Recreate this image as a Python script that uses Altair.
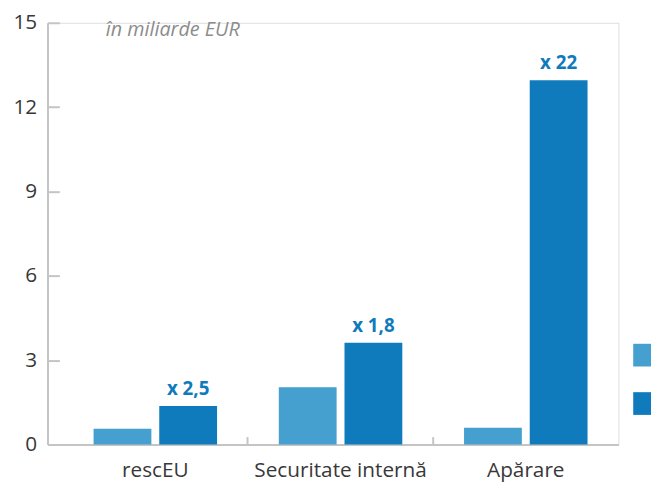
import altair as alt
import pandas as pd

categories = ["rescEU", "Securitate internă", "Apărare"]
series = ["2021-2027", "2028-2034"]
values_old = [0.56, 2.04, 0.60]
values_new = [1.37, 3.62, 12.96]
multipliers = ["x 2,5", "x 1,8", "x 22"]
y_ticks = [0, 3, 6, 9, 12, 15]
subtitle = "în miliarde EUR"

rows = []
for i, c in enumerate(categories):
    rows.append({"cat": c, "series": series[0], "value": values_old[i], "label": ""})
    rows.append({"cat": c, "series": series[1], "value": values_new[i], "label": multipliers[i]})
df = pd.DataFrame(rows)

FONT = "Open Sans"
LIGHT = "#45a0cf"
DARK = "#0f7abc"
AXIS_GREY = "#c4c4c4"
TEXT = "#383838"

x_enc = alt.X(
    "cat:N", sort=categories, title=None,
    scale=alt.Scale(paddingInner=0, paddingOuter=0.041, align=1),
    axis=alt.Axis(
        labelAngle=0, labelFontSize=21, labelColor=TEXT, labelFont=FONT,
        labelPadding=23, domainColor=AXIS_GREY, domainWidth=2,
        tickColor=AXIS_GREY, tickWidth=2, tickSize={"expr": "-8"},
        bandPosition=0,
        tickOpacity=alt.condition("datum.value === 'rescEU'", alt.value(0), alt.value(1)),
    ),
)
y_enc = alt.Y(
    "value:Q", title=None,
    scale=alt.Scale(domain=[0, 15], nice=False),
    axis=alt.Axis(
        values=y_ticks, labelFontSize=21, labelColor=TEXT, labelFont=FONT,
        labelPadding=23, domainColor=AXIS_GREY, domainWidth=2,
        tickColor=AXIS_GREY, tickWidth=2, tickSize={"expr": "-12"}, grid=False,
    ),
)
xoff = alt.XOffset("series:N", sort=series,
                   scale=alt.Scale(paddingInner=0.12, paddingOuter=0.47))

bars = alt.Chart(df).mark_bar().encode(
    x=x_enc, xOffset=xoff, y=y_enc,
    color=alt.Color(
        "series:N", sort=series,
        scale=alt.Scale(domain=series, range=[LIGHT, DARK]),
        legend=alt.Legend(
            title=None, orient="none", legendX=593, legendY=325,
            symbolType="square", symbolSize=529, symbolStrokeWidth=0,
            symbolOpacity=1, labelExpr="''", labelFontSize=1,
            rowPadding=26, labelOffset=0,
        ),
    ),
)

labels = alt.Chart(df).transform_filter(
    alt.datum.label != ""
).mark_text(
    baseline="alphabetic", dy=-11, fontSize=19, fontWeight="bold", font=FONT, color=DARK
).encode(x=x_enc, xOffset=xoff, y=y_enc, text="label:N")

sub = alt.Chart(pd.DataFrame({"t": [subtitle]})).mark_text(
    align="left", baseline="alphabetic", fontSize=20, fontStyle="italic",
    font=FONT, color="#8c8c8c"
).encode(x=alt.value(59), y=alt.value(13), text="t:N")

chart = alt.layer(bars, labels, sub).properties(
    width=578, height=427,
    padding={"left": 40, "top": 12, "right": 33, "bottom": 37},
    autosize=alt.AutoSizeParams(type="none"),
).configure_view(stroke="transparent", strokeWidth=0).configure(font=FONT)

chart.save("out.html", embed_options={"renderer": "svg", "actions": False})
